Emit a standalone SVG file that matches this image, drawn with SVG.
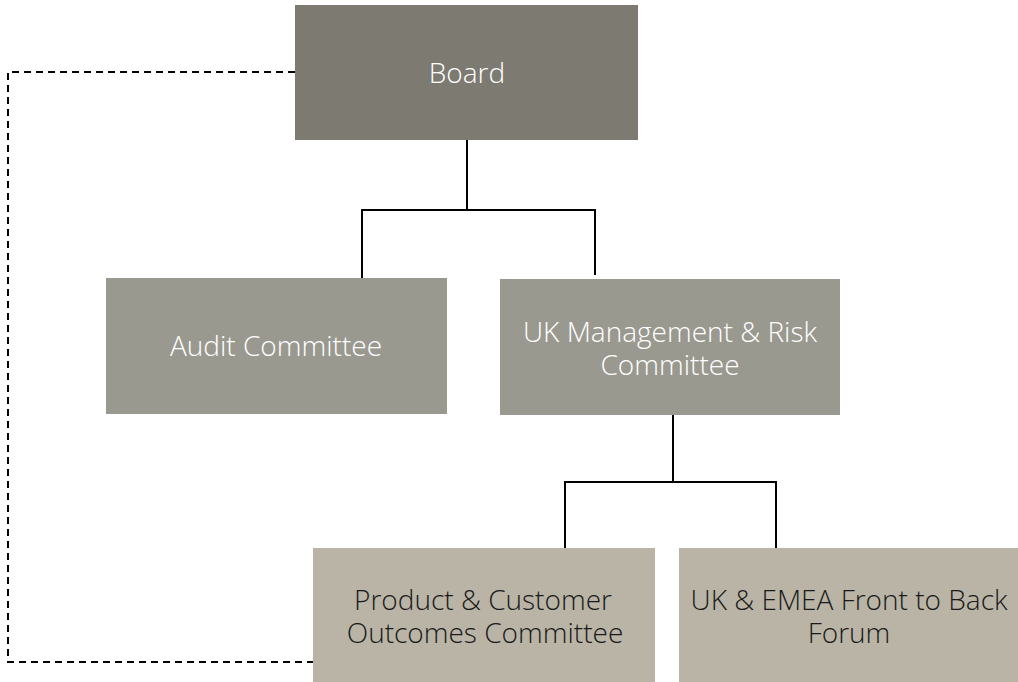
<svg xmlns="http://www.w3.org/2000/svg" width="1018" height="682" viewBox="0 0 1018 682">
  <style>
    .lbl { font-family: "Open Sans", "Liberation Sans", sans-serif; font-weight: 300; font-size: 28px; text-anchor: middle; }
    .light { fill: #ffffff; }
    .dark { fill: #1a1a1a; }
    .wire { fill: none; stroke: #000000; stroke-width: 2; }
    .dash { fill: none; stroke: #000000; stroke-width: 2; stroke-dasharray: 7 5; }
  </style>
  <rect width="1018" height="682" fill="#ffffff"/>

  <!-- reporting lines -->
  <g id="connectors">
    <path class="wire" d="M467 140 V210 M362 278 V210 H595 V275"/>
    <path class="wire" d="M673 415 V482 M565 548 V482 H776 V548"/>
    <path class="dash" d="M295 72 H8 V662 H313"/>
  </g>

  <g id="board">
    <rect x="295" y="5" width="343" height="135" fill="#7d7a72"/>
    <text class="lbl light" x="467" y="83">Board</text>
  </g>

  <g id="audit-committee">
    <rect x="106" y="278" width="341" height="136" fill="#9a9990"/>
    <text class="lbl light" x="276" y="356">Audit Committee</text>
  </g>

  <g id="uk-management-risk">
    <rect x="500" y="279" width="340" height="136" fill="#9a9990"/>
    <text class="lbl light" x="670" y="342">UK Management &amp; Risk</text>
    <text class="lbl light" x="670" y="375">Committee</text>
  </g>

  <g id="product-customer-outcomes">
    <rect x="313" y="548" width="342" height="134" fill="#b9b4a5"/>
    <text class="lbl dark" x="483" y="610">Product &amp; Customer</text>
    <text class="lbl dark" x="485" y="643">Outcomes Committee</text>
  </g>

  <g id="uk-emea-front-to-back">
    <rect x="679" y="548" width="339" height="134" fill="#b9b4a5"/>
    <text class="lbl dark" x="849" y="610">UK &amp; EMEA Front to Back</text>
    <text class="lbl dark" x="849" y="643">Forum</text>
  </g>
</svg>
